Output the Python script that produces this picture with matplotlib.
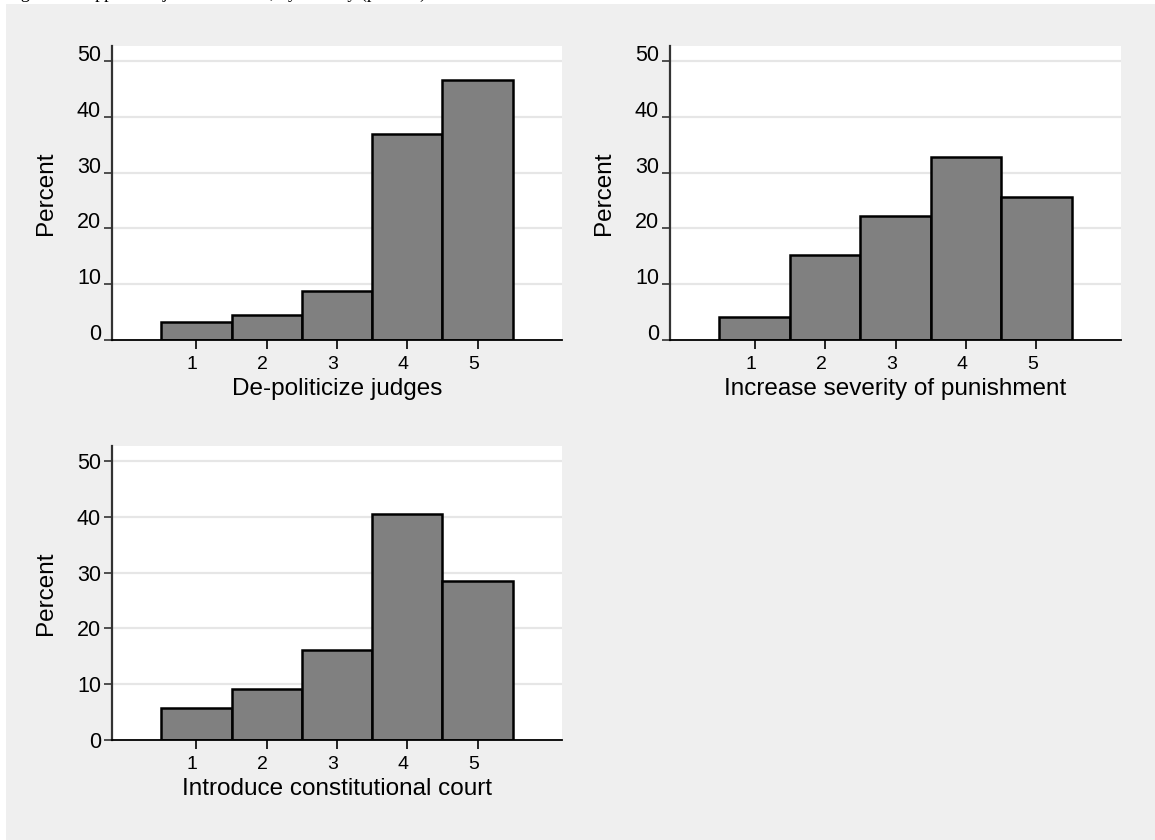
import matplotlib.pyplot as plt
from matplotlib.patches import Rectangle
from matplotlib.transforms import ScaledTranslation

plt.rcParams.update({"font.family": ["Liberation Sans", "DejaVu Sans"]})

# response scale 1..5, share of respondents (percent)
categories = [1, 2, 3, 4, 5]
depoliticize = [3.3, 4.5, 8.7, 37.0, 46.6]
severity = [4.1, 15.2, 22.2, 32.8, 25.7]
const_court = [5.7, 9.1, 16.2, 40.5, 28.5]
titles = ["De-politicize judges", "Increase severity of punishment",
          "Introduce constitutional court"]
yticks = [0, 10, 20, 30, 40, 50]

W, H = 1155, 840
BG = "#efefef"


def px_axes(fig, left, top, right, bottom):
    return fig.add_axes([left / W, 1 - bottom / H, (right - left) / W, (bottom - top) / H])


def histo(fig, ax, values, label, va="baseline"):
    ax.set_facecolor("white")
    ax.bar(categories, values, width=1.0, color="#808080", edgecolor="black",
           linewidth=1.8, zorder=3)
    ax.set_xlim(-0.2, 6.2)
    ax.set_ylim(0, 52.7)
    for v in yticks[1:]:
        ax.axhline(v, color="#e6e6e6", lw=1.6, zorder=1)
    ax.set_yticks(yticks)
    ax.set_xticks(categories)
    ax.tick_params(axis="y", length=6, width=1.2, color="#333333", pad=2,
                   labelsize=15.5)
    ax.tick_params(axis="x", length=6.5, width=1.2, color="black", pad=5,
                   labelsize=14)
    for lab in ax.get_yticklabels():
        lab.set_va(va)
    shift = ScaledTranslation(-4 / 100, 0, fig.dpi_scale_trans)
    for lab in ax.get_xticklabels():
        lab.set_transform(lab.get_transform() + shift)
    for s in ("top", "right"):
        ax.spines[s].set_visible(False)
    ax.spines["left"].set_color("#333333")
    ax.spines["left"].set_linewidth(1.6)
    ax.spines["bottom"].set_color("black")
    ax.spines["bottom"].set_linewidth(1.3)
    ax.spines["bottom"].set_zorder(4)
    ax.set_ylabel("Percent", fontsize=17.5)
    ax.yaxis.set_label_coords(-0.147, 0.5)
    ax.yaxis.label.set_va("center")
    ax.set_xlabel(label, fontsize=17.5)
    ax.xaxis.set_label_coords(0.5, -0.165)
    ax.xaxis.label.set_va("center")


fig = plt.figure(figsize=(W / 100, H / 100), dpi=100)
fig.patch.set_facecolor("white")
fig.patches.append(Rectangle((6 / W, 0), 1, 1 - 4 / H, transform=fig.transFigure,
                             facecolor=BG, edgecolor="none", zorder=-10))

# caption line of the source page, cut off at the top edge (only descenders show)
fig.text(6 / W, 1 + 2.5 / H, "Figure 4: Support for judicial reform, by country (percent)",
         family=["Liberation Serif", "DejaVu Serif"], fontsize=13, va="baseline",
         ha="left")

ax1 = px_axes(fig, 112, 46, 562, 340)
histo(fig, ax1, depoliticize, titles[0])
ax2 = px_axes(fig, 670, 46, 1121, 340)
histo(fig, ax2, severity, titles[1])
ax3 = px_axes(fig, 112, 446, 562, 740)
histo(fig, ax3, const_court, titles[2], va="center_baseline")

fig.savefig("out.png", dpi=100, facecolor="white")
